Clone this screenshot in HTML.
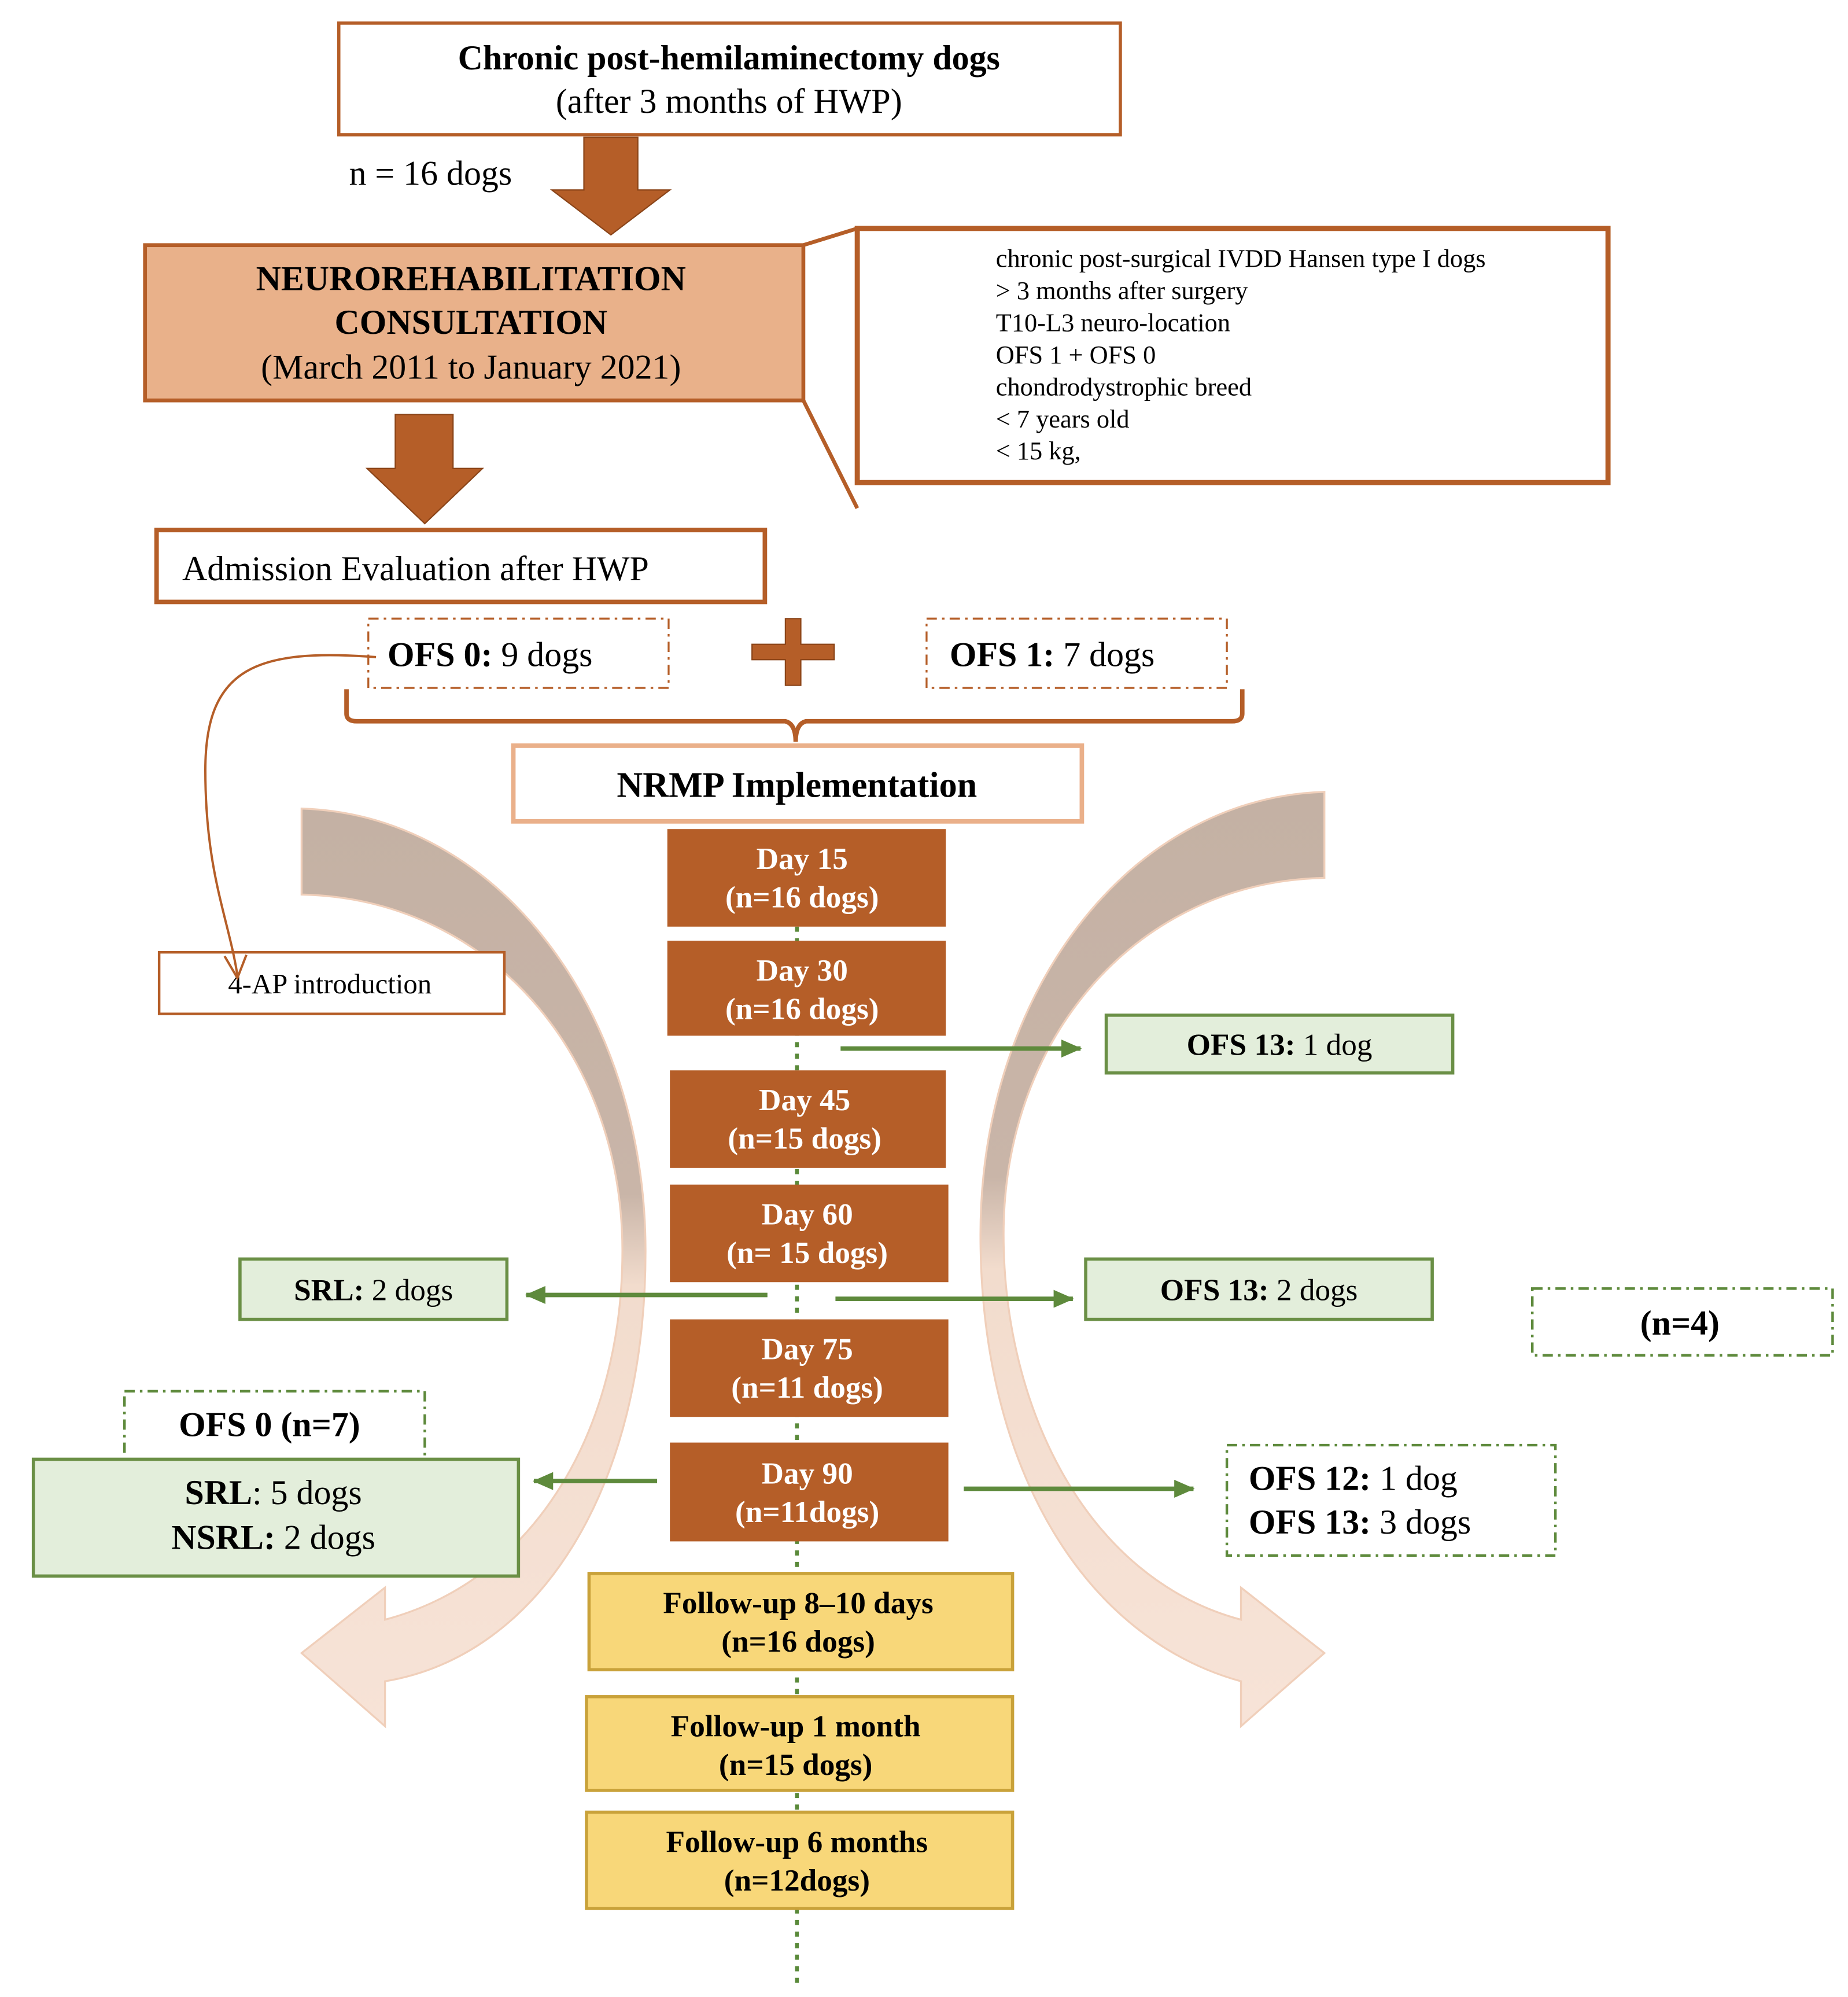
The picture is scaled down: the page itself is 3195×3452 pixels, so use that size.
<!DOCTYPE html>
<html><head><meta charset="utf-8"><style>html,body{margin:0;padding:0;background:#fff}svg{display:block}</style></head><body>
<svg xmlns="http://www.w3.org/2000/svg" width="3195" height="3452" viewBox="0 0 1440 1556" preserveAspectRatio="none" font-family="'Liberation Serif', serif">
<defs>
<linearGradient id="g" gradientUnits="userSpaceOnUse" x1="0" y1="630" x2="0" y2="1345">
<stop offset="0" stop-color="#c4b1a4"/><stop offset="0.42" stop-color="#c9b5a8"/><stop offset="0.52" stop-color="#f2dccd"/><stop offset="1" stop-color="#f7e3d7"/></linearGradient>
<marker id="gb" markerWidth="16" markerHeight="14" refX="15" refY="7" orient="auto" markerUnits="userSpaceOnUse"><path d="M0,0 L16,7 L0,14 Z" fill="#5e8a3c"/></marker>
</defs>
<rect width="1440" height="1556" fill="#fff"/>
<path d="M235,630 C390,635 503,790 503,975 C503,1160 420,1290 300,1310 L300,1345 L235,1288 L300,1237 L300,1262 C420,1230 485,1110 485,975 C485,820 380,700 235,697 Z" fill="url(#g)" stroke="#f0cfba" stroke-width="1.5"/>
<g transform="translate(1267,-13) scale(-1,1)"><path d="M235,630 C390,635 503,790 503,975 C503,1160 420,1290 300,1323 L300,1358 L235,1301 L300,1250 L300,1275 C420,1243 485,1110 485,975 C485,820 380,700 235,697 Z" fill="url(#g)" stroke="#f0cfba" stroke-width="1.5"/></g>
<rect x="264" y="18" width="609" height="87" fill="#fff" stroke="#b55e28" stroke-width="2.5"/>
<text x="568" y="54" font-size="27" font-weight="bold" text-anchor="middle">Chronic post-hemilaminectomy dogs</text>
<text x="568" y="88" font-size="27" text-anchor="middle">(after 3 months of HWP)</text>
<text x="272" y="144" font-size="27">n = 16 dogs</text>
<path d="M455,107 H497 V148 H522 L476,183 L430,148 H455 Z" fill="#b55e28" stroke="#8a4418" stroke-width="1"/>
<rect x="113" y="191" width="513" height="121" fill="#e9b18a" stroke="#b55e28" stroke-width="3"/>
<text x="367" y="226" font-size="27" font-weight="bold" text-anchor="middle">NEUROREHABILITATION</text>
<text x="367" y="260" font-size="27" font-weight="bold" text-anchor="middle">CONSULTATION</text>
<text x="367" y="295" font-size="27" text-anchor="middle">(March 2011 to January 2021)</text>
<path d="M626,191 L668,178 M626,312 L668,396" stroke="#b55e28" stroke-width="3" fill="none"/>
<rect x="668" y="178" width="585" height="198" fill="#fff" stroke="#b55e28" stroke-width="4"/>
<g font-size="20"><text x="776" y="208">chronic post-surgical IVDD Hansen type I dogs</text><text x="776" y="233">&gt; 3 months after surgery</text><text x="776" y="258">T10-L3 neuro-location</text><text x="776" y="283">OFS 1 + OFS 0</text><text x="776" y="308">chondrodystrophic breed</text><text x="776" y="333">&lt; 7 years old</text><text x="776" y="358">&lt; 15 kg,</text></g>
<path d="M308,323 H353 V365 H376 L331,408 L286,365 H308 Z" fill="#b55e28" stroke="#8a4418" stroke-width="1"/>
<rect x="122" y="413" width="474" height="56" fill="#fff" stroke="#b55e28" stroke-width="3.5"/>
<text x="142" y="452" font-size="27">Admission Evaluation after HWP</text>
<rect x="287" y="482" width="234" height="54" fill="#fff" stroke="#b55e28" stroke-width="1.5" stroke-dasharray="8 4 2 4"/>
<text x="302" y="519" font-size="27"><tspan font-weight="bold">OFS 0:</tspan> 9 dogs</text>
<path d="M612,482 H624 V502 H650 V514 H624 V534 H612 V514 H586 V502 H612 Z" fill="#b55e28" stroke="#8a4418" stroke-width="1"/>
<rect x="722" y="482" width="234" height="54" fill="#fff" stroke="#b55e28" stroke-width="1.5" stroke-dasharray="8 4 2 4"/>
<text x="740" y="519" font-size="27"><tspan font-weight="bold">OFS 1:</tspan> 7 dogs</text>
<path d="M270,537 V556 Q270,562 278,562 H612 Q620,564 620,578 Q620,564 628,562 H960 Q968,562 968,556 V537" fill="none" stroke="#b55e28" stroke-width="3.5"/>
<rect x="400" y="581" width="443" height="59" fill="#fff" stroke="#eab08a" stroke-width="3.5"/>
<text x="621" y="621" font-size="28" font-weight="bold" text-anchor="middle">NRMP Implementation</text>
<rect x="124" y="742" width="269" height="48" fill="#fff" stroke="#b55e28" stroke-width="2"/>
<text x="257" y="774" font-size="22" text-anchor="middle">4-AP introduction</text>
<path d="M293,512 C200,505 160,520 160,600 C160,680 178,715 185,760" fill="none" stroke="#b55e28" stroke-width="1.8"/>
<path d="M175,745 L185,762 L192,744" fill="none" stroke="#b55e28" stroke-width="1.8"/>
<path d="M621,722 V1545" stroke="#5a8a3a" stroke-width="3" stroke-dasharray="4 5"/>
<g fill="#b55e28"><rect x="520" y="646" width="217" height="76"/><rect x="520" y="733" width="217" height="74"/><rect x="522" y="834" width="215" height="76"/><rect x="522" y="923" width="217" height="76"/><rect x="522" y="1028" width="217" height="76"/><rect x="522" y="1124" width="217" height="77"/></g>
<g fill="#fff" font-size="24" font-weight="bold" text-anchor="middle">
<text x="625" y="677">Day 15</text><text x="625" y="707">(n=16 dogs)</text>
<text x="625" y="764">Day 30</text><text x="625" y="794">(n=16 dogs)</text>
<text x="627" y="865">Day 45</text><text x="627" y="895">(n=15 dogs)</text>
<text x="629" y="954">Day 60</text><text x="629" y="984">(n= 15 dogs)</text>
<text x="629" y="1059">Day 75</text><text x="629" y="1089">(n=11 dogs)</text>
<text x="629" y="1156">Day 90</text><text x="629" y="1186">(n=11dogs)</text></g>
<g fill="#f8d779" stroke="#c9a23a" stroke-width="2.5"><rect x="459" y="1226" width="330" height="75"/><rect x="457" y="1322" width="332" height="73"/><rect x="457" y="1412" width="332" height="75"/></g>
<g font-size="24" font-weight="bold" text-anchor="middle">
<text x="622" y="1257">Follow-up 8–10 days</text><text x="622" y="1287">(n=16 dogs)</text>
<text x="620" y="1353">Follow-up 1 month</text><text x="620" y="1383">(n=15 dogs)</text>
<text x="621" y="1443">Follow-up 6 months</text><text x="621" y="1473">(n=12dogs)</text></g>
<g fill="#e3eedb" stroke="#6a8f45" stroke-width="2.5"><rect x="862" y="791" width="270" height="45"/><rect x="187" y="981" width="208" height="47"/><rect x="846" y="981" width="270" height="47"/></g>
<g fill="#fff" stroke="#5e8a3c" stroke-width="2" stroke-dasharray="8 4 2 4"><rect x="97" y="1084" width="234" height="60"/><rect x="1194" y="1004" width="234" height="52"/><rect x="956" y="1126" width="256" height="86"/></g>
<rect x="26" y="1137" width="378" height="91" fill="#e3eedb" stroke="#6a8f45" stroke-width="2.5"/>
<g font-size="24"><text x="997" y="822" text-anchor="middle"><tspan font-weight="bold">OFS 13:</tspan> 1 dog</text>
<text x="291" y="1013" text-anchor="middle"><tspan font-weight="bold">SRL:</tspan> 2 dogs</text>
<text x="981" y="1013" text-anchor="middle"><tspan font-weight="bold">OFS 13:</tspan> 2 dogs</text></g>
<text x="1309" y="1040" font-size="27" font-weight="bold" text-anchor="middle">(n=4)</text>
<text x="210" y="1119" font-size="27" font-weight="bold" text-anchor="middle">OFS 0 (n=7)</text>
<g font-size="27" text-anchor="middle"><text x="213" y="1172"><tspan font-weight="bold">SRL</tspan>: 5 dogs</text><text x="213" y="1207"><tspan font-weight="bold">NSRL:</tspan> 2 dogs</text></g>
<g font-size="27"><text x="973" y="1161"><tspan font-weight="bold">OFS 12:</tspan> 1 dog</text><text x="973" y="1195"><tspan font-weight="bold">OFS 13:</tspan> 3 dogs</text></g>
<g stroke="#5e8a3c" stroke-width="3.5" marker-end="url(#gb)"><line x1="655" y1="817" x2="842" y2="817"/><line x1="598" y1="1009" x2="410" y2="1009"/><line x1="651" y1="1012" x2="836" y2="1012"/><line x1="512" y1="1154" x2="416" y2="1154"/><line x1="751" y1="1160" x2="930" y2="1160"/></g>
</svg>
</body></html>
